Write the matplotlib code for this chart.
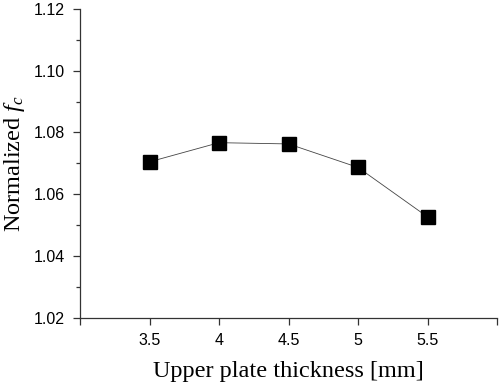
import matplotlib
matplotlib.use("Agg")
import matplotlib.pyplot as plt
from matplotlib.ticker import MultipleLocator

plt.rcParams["mathtext.fontset"] = "custom"
plt.rcParams["mathtext.it"] = "Liberation Serif:italic"
plt.rcParams["mathtext.rm"] = "Liberation Serif"

thickness = [3.5, 4.0, 4.5, 5.0, 5.5]
norm_fc = [1.0705, 1.0767, 1.0763, 1.0687, 1.0527]

x_ticks = [3.0, 3.5, 4.0, 4.5, 5.0, 5.5, 6.0]
x_labels = ["", "3.5", "4", "4.5", "5", "5.5", ""]
y_ticks = [1.02, 1.04, 1.06, 1.08, 1.10, 1.12]
y_labels = ["1.02", "1.04", "1.06", "1.08", "1.10", "1.12"]

fig = plt.figure(figsize=(5, 3.84), dpi=100)
ax = fig.add_axes([0.16, 0.172, 0.834, 0.805])

ax.plot(thickness, norm_fc, color="#444444", lw=0.6, marker="s",
        markersize=9.6, markerfacecolor="black", markeredgecolor="black")

ax.set_xlim(3.0, 6.0)
ax.set_ylim(1.02, 1.12)
ax.set_xticks(x_ticks)
ax.set_xticklabels(x_labels, fontfamily="Liberation Sans", fontsize=11.5)
ax.set_yticks(y_ticks)
ax.set_yticklabels(y_labels, fontfamily="Liberation Sans", fontsize=11.5)
ax.yaxis.set_minor_locator(MultipleLocator(0.01))

for side in ["top", "right"]:
    ax.spines[side].set_visible(False)
for side in ["left", "bottom"]:
    ax.spines[side].set_color("#333333")
    ax.spines[side].set_linewidth(0.9)

ax.tick_params(which="major", direction="out", length=5, width=0.9, color="#333333", pad=6)
ax.tick_params(which="minor", direction="out", length=3, width=0.9, color="#333333")

ax.set_xlabel("Upper plate thickness [mm]", fontfamily="Liberation Serif", fontsize=17.5)
ax.set_ylabel("Normalized $f_c$", fontfamily="Liberation Serif", fontsize=17.5)
ax.xaxis.set_label_coords(0.5, -0.138)
ax.yaxis.set_label_coords(-0.128, 0.5)

fig.savefig("out.png", dpi=100)
